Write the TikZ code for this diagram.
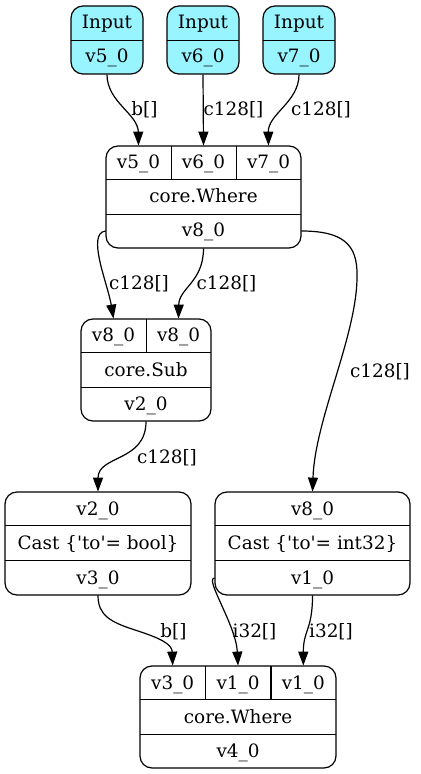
\documentclass[tikz,border=0pt]{standalone}
\usepackage{fontspec}
\setmainfont{DejaVu Serif}
\usetikzlibrary{arrows.meta}
\definecolor{incyan}{HTML}{98F5FF}
\tikzset{
  rec/.style={draw, line width=0.6pt, rounded corners=6pt, inner sep=0pt},
  cell/.style={inner sep=0pt, minimum height=17pt, text height=7pt, text depth=1pt},
  sep/.style={line width=0.6pt},
  edge/.style={line width=0.6pt, -{Triangle[length=7pt,width=5pt]}},
  lbl/.style={inner sep=0pt, text height=7pt, text depth=1pt}
}
\begin{document}
\begin{tikzpicture}[x=0.5pt, y=-0.5pt, font=\fontsize{9.2}{11}\selectfont]
\useasboundingbox (0,0) rectangle (420,774);
\node[rec, fill=incyan, minimum width=36pt, minimum height=34pt] (in5) at (107,40){};
\node[cell, minimum width=36pt] (in5a) at (107,23){Input};
\node[cell, minimum width=36pt] (in5b) at (107,57){v5\_0};
\draw[sep](in5a.south west) -- (in5a.south east);
\node[rec, fill=incyan, minimum width=36pt, minimum height=34pt] (in6) at (203,40){};
\node[cell, minimum width=36pt] (in6a) at (203,23){Input};
\node[cell, minimum width=36pt] (in6b) at (203,57){v6\_0};
\draw[sep](in6a.south west) -- (in6a.south east);
\node[rec, fill=incyan, minimum width=36pt, minimum height=34pt] (in7) at (299,40){};
\node[cell, minimum width=36pt] (in7a) at (299,23){Input};
\node[cell, minimum width=36pt] (in7b) at (299,57){v7\_0};
\draw[sep](in7a.south west) -- (in7a.south east);
\node[rec, minimum width=97.5pt, minimum height=51pt] (wh8) at (203.5,197){};
\node[cell, minimum width=32.5pt] (wh8a) at (138.5,163){v5\_0};
\node[cell, minimum width=32.5pt] (wh8b) at (203.5,163){v6\_0};
\node[cell, minimum width=32.5pt] (wh8c) at (268.5,163){v7\_0};
\node[cell, minimum width=97.5pt] (wh8op) at (203.5,197){core.Where};
\node[cell, minimum width=97.5pt] (wh8out) at (203.5,231){v8\_0};
\draw[sep](wh8op.north west) -- (wh8op.north east);
\draw[sep](wh8op.south west) -- (wh8op.south east);
\draw[sep](wh8a.north east) -- (wh8a.south east);
\draw[sep](wh8b.north east) -- (wh8b.south east);
\node[rec, minimum width=65pt, minimum height=51pt] (sub2) at (146,370){};
\node[cell, minimum width=32.5pt] (sub2a) at (113.5,336){v8\_0};
\node[cell, minimum width=32.5pt] (sub2b) at (178.5,336){v8\_0};
\node[cell, minimum width=65pt] (sub2op) at (146,370){core.Sub};
\node[cell, minimum width=65pt] (sub2out) at (146,404){v2\_0};
\draw[sep](sub2op.north west) -- (sub2op.north east);
\draw[sep](sub2op.south west) -- (sub2op.south east);
\draw[sep](sub2a.north east) -- (sub2a.south east);
\node[rec, minimum width=93pt, minimum height=51.5pt] (cb3) at (98,543.5){};
\node[cell, minimum width=93pt] (cb3in) at (98,509){v2\_0};
\node[cell, minimum width=93pt] (cb3op) at (98,543){Cast \{\textquotesingle to\textquotesingle= bool\}};
\node[cell, minimum width=93pt] (cb3out) at (98,578){v3\_0};
\draw[sep](cb3op.north west) -- (cb3op.north east);
\draw[sep](cb3op.south west) -- (cb3op.south east);
\node[rec, minimum width=97.5pt, minimum height=51.5pt] (ci1) at (312.5,543.5){};
\node[cell, minimum width=97.5pt] (ci1in) at (312.5,509){v8\_0};
\node[cell, minimum width=97.5pt] (ci1op) at (312.5,543){Cast \{\textquotesingle to\textquotesingle= int32\}};
\node[cell, minimum width=97.5pt] (ci1out) at (312.5,578){v1\_0};
\draw[sep](ci1op.north west) -- (ci1op.north east);
\draw[sep](ci1op.south west) -- (ci1op.south east);
\node[rec, minimum width=98pt, minimum height=51pt] (wh4) at (238,717){};
\node[cell, minimum width=32.67pt] (wh4a) at (172.7,683){v3\_0};
\node[cell, minimum width=32.67pt] (wh4b) at (238,683){v1\_0};
\node[cell, minimum width=32.67pt] (wh4c) at (303.3,683){v1\_0};
\node[cell, minimum width=98pt] (wh4op) at (238,717){core.Where};
\node[cell, minimum width=98pt] (wh4out) at (238,751){v4\_0};
\draw[sep](wh4op.north west) -- (wh4op.north east);
\draw[sep](wh4op.south west) -- (wh4op.south east);
\draw[sep](wh4a.north east) -- (wh4a.south east);
\draw[sep](wh4b.north east) -- (wh4b.south east);
\draw[edge](in5.south) .. controls (107,102) and (138,114) .. (wh8a.north);
\draw[edge](in6.south) -- (wh8b.north);
\draw[edge](in7.south) .. controls (299,102) and (268,114) .. (wh8c.north);
\draw[edge](wh8out.west) .. controls (86,233) and (108,285) .. (sub2a.north);
\draw[edge](wh8out.south) .. controls (203.5,282) and (179,288) .. (sub2b.north);
\draw[edge](wh8out.east) .. controls (350,231) and (358,250) .. (357,280) .. controls (355,340) and (315,420) .. (ci1in.north);
\draw[edge](sub2out.south) .. controls (146,462) and (98,455) .. (cb3in.north);
\draw[edge](cb3out.south) .. controls (98,615) and (110,622) .. (135,630) .. controls (160,638) and (172,644) .. (wh4a.north);
\draw[edge](ci1out.west) .. controls (204,578) and (236,625) .. (wh4b.north);
\draw[edge](ci1out.south) .. controls (312.5,630) and (303.3,630) .. (wh4c.north);
\node[lbl] (l1) at (144.5,110){b[]};
\node[lbl] (l2) at (233.5,110){c128[]};
\node[lbl] (l3) at (321,110){c128[]};
\node[lbl] (l4) at (139,284){c128[]};
\node[lbl] (l5) at (226.5,284){c128[]};
\node[lbl] (l6) at (380,371){c128[]};
\node[lbl] (l7) at (167,457){c128[]};
\node[lbl] (l8) at (173.5,631){b[]};
\node[lbl] (l9) at (254.5,631){i32[]};
\node[lbl] (l10) at (331,631){i32[]};
\end{tikzpicture}
\end{document}
